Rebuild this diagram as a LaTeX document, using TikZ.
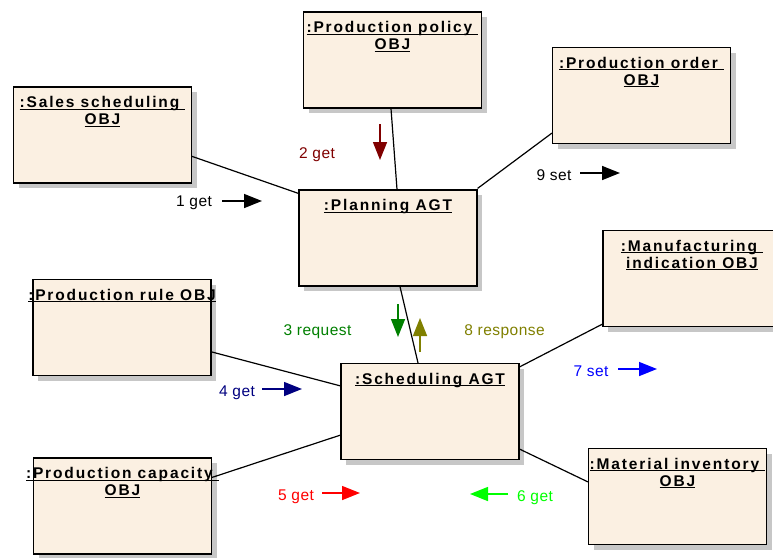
\documentclass[tikz,border=0pt]{standalone}
\usepackage{fontspec}
\setmainfont{Liberation Sans}
\newfontfamily\titlefont{Liberation Sans}[LetterSpace=12]
\newfontfamily\labelfont{Liberation Sans}[LetterSpace=3]
\usetikzlibrary{arrows.meta,shadows,calc}
\newcommand\myul[1]{\setbox0\hbox{#1}\rlap{\rule[-2pt]{\wd0}{1.2pt}}\box0}
\definecolor{boxfill}{RGB}{251,240,226}
\definecolor{cdarkred}{RGB}{128,0,0}
\definecolor{cgreen}{RGB}{0,128,0}
\definecolor{colive}{RGB}{128,128,0}
\definecolor{cnavy}{RGB}{0,0,128}
\definecolor{cblue}{RGB}{0,0,255}
\definecolor{cred}{RGB}{255,0,0}
\definecolor{clime}{RGB}{0,255,0}
\begin{document}
\begin{tikzpicture}[x=1pt,y=-1pt,
  objbox/.style={draw=black, line width=1.2pt, fill=boxfill, minimum width=178pt, minimum height=96pt, inner sep=0pt,
    drop shadow={shadow xshift=5pt, shadow yshift=-5pt, fill=black!22, opacity=1}},
  ttl/.style={anchor=base, inner sep=0pt, font=\titlefont\bfseries\fontsize{15.5pt}{17pt}\selectfont},
  lbl/.style={anchor=base, inner sep=0pt, font=\labelfont\fontsize{15.5pt}{17pt}\selectfont},
  link/.style={draw=black, line width=1.2pt},
  msg/.style={line width=1.5pt, -{Triangle[length=18pt,width=14pt]}}]
\useasboundingbox (0,0) rectangle (773,557);
\fill[white] (0,0) rectangle (773,557);

% boxes
\node[objbox] (sales) at (102.5,135) {};
\node[objbox] (policy) at (392.5,60) {};
\node[objbox] (order) at (641.5,95.5) {};
\node[objbox] (planning) at (388,238) {};
\node[objbox] (rule) at (122,327.5) {};
\node[objbox] (manuf) at (692,278.5) {};
\node[objbox] (sched) at (430,411.5) {};
\node[objbox] (capac) at (122.5,506) {};
\node[objbox] (mater) at (677.5,496.5) {};

% titles
\node[ttl] (tsales1) at ($(sales.north)+(0,21.5)$) {\myul{:Sales scheduling\ }};
\node[ttl] (tsales2) at ($(sales.north)+(0,38.5)$) {\myul{OBJ}};
\node[ttl] (tpolicy1) at ($(policy.north)+(0,21.5)$) {\myul{:Production policy\ }};
\node[ttl] (tpolicy2) at ($(policy.north)+(0,38.5)$) {\myul{OBJ}};
\node[ttl] (torder1) at ($(order.north)+(0,21.5)$) {\myul{:Production order\ }};
\node[ttl] (torder2) at ($(order.north)+(0,38.5)$) {\myul{OBJ}};
\node[ttl] (tplan) at ($(planning.north)+(0,21.5)$) {\myul{:Planning AGT}};
\node[ttl] (trule) at ($(rule.north)+(0,21.5)$) {\myul{:Production rule OBJ}};
\node[ttl] (tmanuf1) at ($(manuf.north)+(0,21.5)$) {\myul{:Manufacturing\ }};
\node[ttl] (tmanuf2) at ($(manuf.north)+(0,38.5)$) {\myul{indication OBJ}};
\node[ttl] (tsched) at ($(sched.north)+(0,21.5)$) {\myul{:Scheduling AGT}};
\node[ttl] (tcapac1) at ($(capac.north)+(0,21.5)$) {\myul{:Production capacity\ }};
\node[ttl] (tcapac2) at ($(capac.north)+(0,38.5)$) {\myul{OBJ}};
\node[ttl] (tmater1) at ($(mater.north)+(0,21.5)$) {\myul{:Material inventory\ }};
\node[ttl] (tmater2) at ($(mater.north)+(0,38.5)$) {\myul{OBJ}};

% links
\draw[link] ($(sales.north east)+(0,70)$) -- ($(planning.north west)+(0,4)$);
\draw[link] ($(policy.south)+(-1.5,0)$) -- ($(planning.north)+(9,0)$);
\draw[link] ($(order.south west)+(0,-11)$) -- ($(planning.north east)+(0,-1)$);
\draw[link] ($(planning.south)+(12,0)$) -- ($(sched.north)+(-12,0)$);
\draw[link] ($(rule.north east)+(0,73)$) -- ($(sched.north west)+(0,23)$);
\draw[link] ($(manuf.south west)+(0,-3)$) -- ($(sched.north east)+(0,4)$);
\draw[link] ($(capac.north east)+(0,20)$) -- ($(sched.south west)+(0,-25)$);
\draw[link] ($(mater.north west)+(0,34)$) -- ($(sched.south east)+(0,-11)$);

% message arrows
\coordinate (m1s) at (222,201); \coordinate (m1e) at (262,201);
\coordinate (m2s) at (380,124); \coordinate (m2e) at (380,160);
\coordinate (m9s) at (580,173); \coordinate (m9e) at (620,173);
\coordinate (m3s) at (398,304); \coordinate (m3e) at (398,337);
\coordinate (m8s) at (420,352); \coordinate (m8e) at (420,318);
\coordinate (m4s) at (262,389); \coordinate (m4e) at (302,389);
\coordinate (m7s) at (618,369); \coordinate (m7e) at (657,369);
\coordinate (m5s) at (322,493); \coordinate (m5e) at (360,493);
\coordinate (m6s) at (508,494); \coordinate (m6e) at (470,494);
\draw[msg, black] (m1s) -- (m1e);
\draw[msg, cdarkred] (m2s) -- (m2e);
\draw[msg, black] (m9s) -- (m9e);
\draw[msg, cgreen] (m3s) -- (m3e);
\draw[msg, colive] (m8s) -- (m8e);
\draw[msg, cnavy] (m4s) -- (m4e);
\draw[msg, cblue] (m7s) -- (m7e);
\draw[msg, cred] (m5s) -- (m5e);
\draw[msg, clime] (m6s) -- (m6e);

% labels
\node[lbl, text=black] (l1) at (194,206) {1 get};
\node[lbl, text=cdarkred] (l2) at (317,158) {2 get};
\node[lbl, text=black] (l9) at (554,180) {9 set};
\node[lbl, text=cgreen] (l3) at (317.5,335) {3 request};
\node[lbl, text=colive] (l8) at (504.5,335) {8 response};
\node[lbl, text=cnavy] (l4) at (237,396) {4 get};
\node[lbl, text=cblue] (l7) at (591,376) {7 set};
\node[lbl, text=cred] (l5) at (296,500) {5 get};
\node[lbl, text=clime] (l6) at (535,501) {6 get};
\end{tikzpicture}
\end{document}
